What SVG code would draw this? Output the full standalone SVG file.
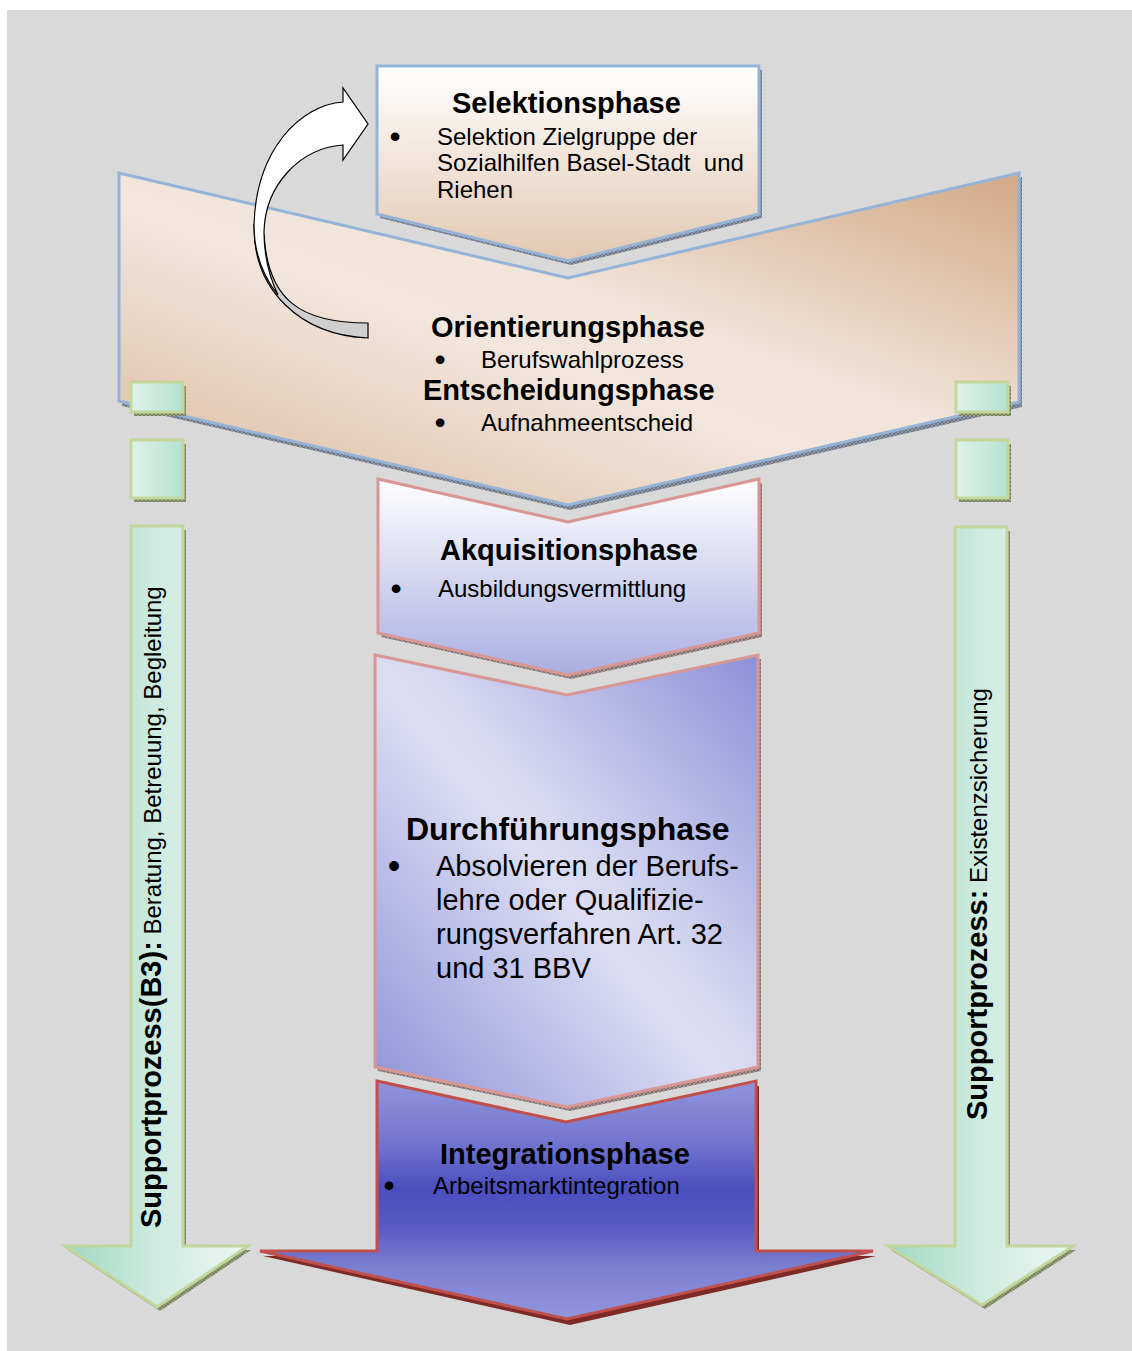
<svg xmlns="http://www.w3.org/2000/svg" width="1132" height="1351" viewBox="0 0 1132 1351">
  <defs>
    <style>
      .title { font-family: "Liberation Sans", Arial, sans-serif; font-weight: bold; font-size: 29px; fill: #000; }
      .body { font-family: "Liberation Sans", Arial, sans-serif; font-size: 24px; fill: #000; }
      .bodyL { font-family: "Liberation Sans", Arial, sans-serif; font-size: 29px; fill: #000; }
      .bullet { font-family: "Liberation Sans", Arial, sans-serif; font-size: 32px; fill: #000; text-anchor: middle; }
      .bold { font-weight: bold; }
      .blueEdge { stroke: #95b3d7; stroke-width: 3; stroke-linejoin: miter; }
      .roseEdge { stroke: #d99694; stroke-width: 3; stroke-linejoin: miter; }
      .greenEdge { stroke: #c3d69b; stroke-width: 3; stroke-linejoin: miter; }
    </style>
    <pattern id="hatchBlue" width="4" height="4" patternUnits="userSpaceOnUse">
      <rect width="4" height="4" fill="#8f99a8"/>
      <path d="M0,4 L4,0 M0,0 L4,4" stroke="#5d6472" stroke-width="0.7"/>
    </pattern>
    <pattern id="hatchRose" width="4" height="4" patternUnits="userSpaceOnUse">
      <rect width="4" height="4" fill="#a89595"/>
      <path d="M0,4 L4,0 M0,0 L4,4" stroke="#6f5d5d" stroke-width="0.7"/>
    </pattern>
    <pattern id="hatchOlive" width="4" height="4" patternUnits="userSpaceOnUse">
      <rect width="4" height="4" fill="#97a27c"/>
      <path d="M0,4 L4,0 M0,0 L4,4" stroke="#646e4d" stroke-width="0.7"/>
    </pattern>
    <linearGradient id="gSelektion" x1="0" y1="0" x2="0" y2="1">
      <stop offset="0" stop-color="#ffffff"/>
      <stop offset="1" stop-color="#e3c8b2"/>
    </linearGradient>
    <linearGradient id="gOrient" x1="0" y1="1" x2="1" y2="0">
      <stop offset="0" stop-color="#dbb89b"/>
      <stop offset="0.45" stop-color="#f2e6dd"/>
      <stop offset="0.58" stop-color="#f1e4d9"/>
      <stop offset="1" stop-color="#d2a886"/>
    </linearGradient>
    <linearGradient id="gAkq" x1="0" y1="0" x2="0" y2="1">
      <stop offset="0" stop-color="#ffffff"/>
      <stop offset="1" stop-color="#aaaee1"/>
    </linearGradient>
    <linearGradient id="gDurch" x1="0" y1="1" x2="1" y2="0">
      <stop offset="0" stop-color="#8d91d8"/>
      <stop offset="0.48" stop-color="#dcddf3"/>
      <stop offset="0.55" stop-color="#d8d9f1"/>
      <stop offset="1" stop-color="#8c90d8"/>
    </linearGradient>
    <linearGradient id="gInteg" x1="0" y1="0" x2="0" y2="1">
      <stop offset="0" stop-color="#9194db"/>
      <stop offset="0.25" stop-color="#7477cf"/>
      <stop offset="0.45" stop-color="#4a4fbf"/>
      <stop offset="0.6" stop-color="#5559c3"/>
      <stop offset="0.78" stop-color="#7a7ed0"/>
      <stop offset="1" stop-color="#9396dc"/>
    </linearGradient>
    <linearGradient id="gArrow" x1="0" y1="0" x2="1" y2="0">
      <stop offset="0" stop-color="#9ed8c2"/>
      <stop offset="0.5" stop-color="#cfebe0"/>
      <stop offset="1" stop-color="#eaf7f2"/>
    </linearGradient>
    <linearGradient id="gSquare" x1="0" y1="0" x2="1" y2="0">
      <stop offset="0" stop-color="#def2ea"/>
      <stop offset="1" stop-color="#b5e1d0"/>
    </linearGradient>
  </defs>

  <!-- canvas -->
  <rect x="7" y="10" width="1125" height="1341" fill="#d9d9d9"/>

  <!-- Orientierungs- / Entscheidungsphase -->
  <g id="orientierung">
    <path d="M122,177 L570,282 L1022,177 L1022,407 L570,510 L122,406 Z" fill="url(#hatchBlue)"/>
    <path d="M119,173 L568,278 L1019,173 L1019,402 L568,505 L119,401 Z" fill="url(#gOrient)" class="blueEdge"/>
    <text class="title" x="431" y="337">Orientierungsphase</text>
    <text class="bullet" x="440" y="370">•</text>
    <text class="body" x="481" y="368">Berufswahlprozess</text>
    <text class="title" x="423" y="400">Entscheidungsphase</text>
    <text class="bullet" x="440" y="433">•</text>
    <text class="body" x="481" y="431">Aufnahmeentscheid</text>
  </g>

  <!-- Selektionsphase -->
  <g id="selektion">
    <path d="M380,70 L762,70 L762,218 L571,265 L380,218 Z" fill="url(#hatchBlue)"/>
    <path d="M377,66 L759,66 L759,214 L568,261 L377,214 Z" fill="url(#gSelektion)" class="blueEdge"/>
    <text class="title" x="452" y="113">Selektionsphase</text>
    <text class="bullet" x="395" y="147">•</text>
    <text class="body" x="437" y="145">Selektion Zielgruppe der</text>
    <text class="body" x="437" y="171">Sozialhilfen Basel-Stadt&#160; und</text>
    <text class="body" x="437" y="198">Riehen</text>
  </g>

  <!-- Akquisitionsphase -->
  <g id="akquisition">
    <path d="M381,483 L571,526 L762,483 L762,637 L571,679 L381,637 Z" fill="url(#hatchRose)"/>
    <path d="M378,479 L568,522 L759,479 L759,633 L568,675 L378,633 Z" fill="url(#gAkq)" class="roseEdge"/>
    <text class="title" x="440" y="560">Akquisitionsphase</text>
    <text class="bullet" x="396" y="599">•</text>
    <text class="body" x="438" y="597">Ausbildungsvermittlung</text>
  </g>

  <!-- Durchführungsphase -->
  <g id="durchfuehrung">
    <path d="M378,659 L570,699 L761,659 L761,1071 L570,1111 L378,1071 Z" fill="url(#hatchRose)"/>
    <path d="M375,655 L567,695 L758,655 L758,1067 L567,1107 L375,1067 Z" fill="url(#gDurch)" class="roseEdge"/>
    <text class="title" x="406" y="840" style="font-size:32px">Durchführungsphase</text>
    <text class="bullet" x="394" y="878" style="font-size:36px">•</text>
    <text class="bodyL" x="436" y="876">Absolvieren der Berufs-</text>
    <text class="bodyL" x="436" y="910">lehre oder Qualifizie-</text>
    <text class="bodyL" x="436" y="944">rungsverfahren Art. 32</text>
    <text class="bodyL" x="436" y="978">und 31 BBV</text>
  </g>

  <!-- Integrationsphase -->
  <g id="integration">
    <path d="M380,1086 L569,1127 L759,1086 L759,1256 L876,1256 L570,1325 L263,1256 L380,1256 Z" fill="#7d2a27"/>
    <path d="M377,1081 L566,1122 L756,1081 L756,1251 L873,1251 L567,1319 L260,1251 L377,1251 Z" fill="url(#gInteg)" stroke="#c0504d" stroke-width="3" stroke-linejoin="miter"/>
    <text class="title" x="440" y="1164">Integrationsphase</text>
    <text class="bullet" x="389" y="1196">•</text>
    <text class="body" x="433" y="1194">Arbeitsmarktintegration</text>
  </g>

  <!-- left support process -->
  <g id="support-left">
    <rect x="134" y="386" width="52" height="30" fill="url(#hatchOlive)"/>
    <rect x="131" y="382" width="52" height="30" fill="url(#gSquare)" class="greenEdge"/>
    <rect x="134" y="444" width="52" height="58" fill="url(#hatchOlive)"/>
    <rect x="131" y="440" width="52" height="58" fill="url(#gSquare)" class="greenEdge"/>
    <path d="M134,530 L186,530 L186,1250 L251,1250 L160,1311 L68,1250 L134,1250 Z" fill="url(#hatchOlive)"/>
    <path d="M131,526 L183,526 L183,1246 L248,1246 L157,1307 L65,1246 L131,1246 Z" fill="url(#gArrow)" class="greenEdge"/>
    <text x="161" y="1228" transform="rotate(-90 161 1228)" class="body"><tspan class="bold" style="font-size:29px">Supportprozess(B3):</tspan> Beratung, Betreuung, Begleitung</text>
  </g>

  <!-- right support process -->
  <g id="support-right">
    <rect x="959" y="386" width="52" height="30" fill="url(#hatchOlive)"/>
    <rect x="956" y="382" width="52" height="30" fill="url(#gSquare)" class="greenEdge"/>
    <rect x="959" y="444" width="52" height="58" fill="url(#hatchOlive)"/>
    <rect x="956" y="440" width="52" height="58" fill="url(#gSquare)" class="greenEdge"/>
    <path d="M958,531 L1010,531 L1010,1250 L1076,1250 L985,1309 L891,1250 L958,1250 Z" fill="url(#hatchOlive)"/>
    <path d="M955,527 L1007,527 L1007,1246 L1073,1246 L982,1305 L888,1246 L955,1246 Z" fill="url(#gArrow)" class="greenEdge"/>
    <text x="987" y="1120" transform="rotate(-90 987 1120)" class="body"><tspan class="bold" style="font-size:29px">Supportprozess:</tspan> Existenzsicherung</text>
  </g>

  <!-- return arrow from orientation back to selection -->
  <g id="connectors" stroke="#000" stroke-width="1.2" stroke-linejoin="miter">
    <path d="M254,225 C253,290 300,335 368,338 L368,323 C300,323 268,300 264,235 Z" fill="#cfcfcf"/>
    <path d="M343,102 L343,88 L368,124 L343,160 L343,145 C300,148 265,185 264,232 C264,252 268,274 278,295 C262,275 254,250 254,225 C256,150 300,105 343,102 Z" fill="#ffffff"/>
  </g>
</svg>
